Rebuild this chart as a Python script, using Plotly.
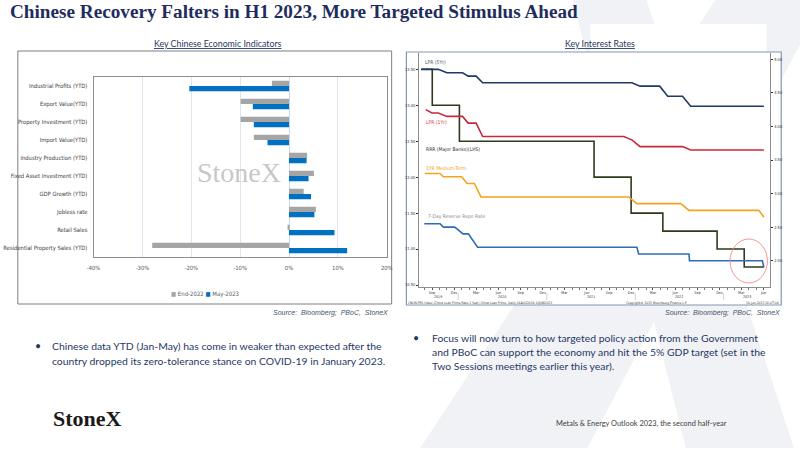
import plotly.graph_objects as go

# ---------------- data: left chart ----------------
categories = ["Industrial Profits (YTD)", "Export Value(YTD)", "Property Investment (YTD)",
              "Import Value(YTD)", "Industry Production (YTD)", "Fixed Asset Investment (YTD)",
              "GDP Growth (YTD)", "Jobless rate", "Retail Sales", "Residential Property Sales (YTD)"]
end_2022 = [-3.5, -9.9, -9.9, -7.2, 3.7, 5.1, 3.0, 5.5, -0.2, -28.0]
may_2023 = [-20.4, -7.4, -7.2, -4.4, 3.6, 4.0, 4.5, 5.2, 9.3, 11.9]
pct_ticks = [-40, -30, -20, -10, 0, 10, 20]
pct_labels = ["-40%", "-30%", "-20%", "-10%", "0%", "10%", "20%"]

# ---------------- data: right chart ----------------
rrr_dates = ["2019-08-01", "2019-09-16", "2020-01-06", "2021-07-15", "2021-12-15",
             "2022-04-25", "2022-12-05", "2023-03-27", "2023-06-16"]
rrr_values = [13.5, 13.0, 12.5, 12.0, 11.5, 11.25, 11.0, 10.75, 10.75]

lpr5_dates = ["2019-08-01", "2019-10-11", "2019-11-15", "2020-01-19", "2020-02-11", "2020-03-15",
              "2020-04-11", "2021-12-18", "2022-01-21", "2022-04-12", "2022-05-15", "2022-07-15",
              "2022-08-18", "2023-06-16"]
lpr5_values = [4.85, 4.85, 4.80, 4.80, 4.75, 4.75, 4.65, 4.65, 4.60, 4.60, 4.45, 4.45, 4.30, 4.30]

lpr1_dates = ["2019-08-20", "2019-09-15", "2019-10-11", "2019-11-15", "2020-01-19", "2020-02-11",
              "2020-03-15", "2020-04-11", "2021-11-15", "2021-12-18", "2022-01-21", "2022-07-15",
              "2022-08-18", "2023-06-16"]
lpr1_values = [4.25, 4.20, 4.20, 4.15, 4.15, 4.05, 4.05, 3.85, 3.85, 3.80, 3.70, 3.70, 3.65, 3.65]

mlf_dates = ["2019-08-16", "2019-10-18", "2019-11-01", "2020-01-15", "2020-02-07", "2020-03-08",
             "2020-04-04", "2021-12-05", "2022-01-08", "2022-07-08", "2022-08-11", "2023-05-26",
             "2023-06-16"]
mlf_values = [3.30, 3.30, 3.25, 3.25, 3.15, 3.15, 2.95, 2.95, 2.85, 2.85, 2.75, 2.75, 2.65]

repo_dates = ["2019-08-14", "2019-10-18", "2019-11-01", "2019-12-18", "2020-01-21", "2020-02-12",
              "2020-03-21", "2022-01-08", "2022-01-15", "2022-08-11", "2022-08-13", "2023-06-10",
              "2023-06-16"]
repo_values = [2.55, 2.55, 2.50, 2.50, 2.40, 2.40, 2.20, 2.20, 2.10, 2.10, 2.00, 2.00, 1.90]

rrr_ticks = [10.5, 11.0, 11.5, 12.0, 12.5, 13.0, 13.5]
rate_ticks = [2.0, 2.5, 3.0, 3.5, 4.0, 4.5, 5.0]
month_ticks = ["2019-09-15", "2019-12-15", "2020-03-15", "2020-06-15", "2020-09-15", "2020-12-15",
               "2021-03-15", "2021-06-15", "2021-09-15", "2021-12-15", "2022-03-15", "2022-06-15",
               "2022-09-15", "2022-12-15", "2023-03-15", "2023-06-15"]
month_labels = ["Sep", "Dec", "Mar", "Jun", "Sep", "Dec", "Mar", "Jun",
                "Sep", "Dec", "Mar", "Jun", "Sep", "Dec", "Mar", "Jun"]
year_labels = ["2019", "2020", "2021", "2022", "2023"]
year_label_dates = ["2019-10-10", "2020-07-01", "2021-07-01", "2022-07-01", "2023-04-06"]
year_breaks = ["2020-01-01", "2021-01-01", "2022-01-01", "2023-01-01"]

# ---------------- helpers (layout only) ----------------
W, H = 800, 450
def px(x):
    return x / W
def py(y):
    return 1 - y / H

NAVY = "#1f2d5c"
TEXT_BLUE = "#1f3864"
NARROW = "Liberation Sans Narrow, Arial Narrow, DejaVu Sans Condensed, sans-serif"
SANS = "Lato, Open Sans, sans-serif"
SERIF = "Liberation Serif, Times New Roman, serif"
BBG = "Liberation Sans Narrow, DejaVu Sans Condensed, Liberation Sans, sans-serif"

fig = go.Figure()

# left chart bars
fig.add_trace(go.Bar(y=categories, x=end_2022, orientation="h", name="End-2022",
                     marker=dict(color="#a5a5a5", line=dict(width=0)), xaxis="x", yaxis="y",
                     showlegend=False))
fig.add_trace(go.Bar(y=categories, x=may_2023, orientation="h", name="May-2023",
                     marker=dict(color="#0070c0", line=dict(width=0)), xaxis="x", yaxis="y",
                     showlegend=False))

# right chart lines
fig.add_trace(go.Scatter(x=rrr_dates, y=rrr_values, mode="lines", line=dict(color="#2c3a1c", width=1.6, shape="hv"),
                         xaxis="x2", yaxis="y2", showlegend=False, name="RRR (Major Banks)(LHS)"))
fig.add_trace(go.Scatter(x=lpr5_dates, y=lpr5_values, mode="lines", line=dict(color="#1f3864", width=1.6),
                         xaxis="x2", yaxis="y3", showlegend=False, name="LPR (5Yr)"))
fig.add_trace(go.Scatter(x=lpr1_dates, y=lpr1_values, mode="lines", line=dict(color="#c8283c", width=1.6),
                         xaxis="x2", yaxis="y3", showlegend=False, name="LPR (1Yr)"))
fig.add_trace(go.Scatter(x=mlf_dates, y=mlf_values, mode="lines", line=dict(color="#f5a31a", width=1.6),
                         xaxis="x2", yaxis="y3", showlegend=False, name="1YR Medium-Term"))
fig.add_trace(go.Scatter(x=repo_dates, y=repo_values, mode="lines", line=dict(color="#2e6db4", width=1.6),
                         xaxis="x2", yaxis="y3", showlegend=False, name="7-Day Reserve Repo Rate"))

shapes = []
# faint X watermark
def poly(points):
    d = "M " + " L ".join(f"{px(a):.4f},{py(b):.4f}" for a, b in points) + " Z"
    return dict(type="path", path=d, xref="paper", yref="paper", fillcolor="#f1f2f5",
                line=dict(width=0), layer="below")
shapes.append(poly([(720, 0), (830, 0), (590, 448), (420, 448)]))
shapes.append(poly([(575, 0), (650, 0), (800, 448), (690, 448)]))
shapes.append(dict(type="rect", xref="paper", yref="paper", x0=px(593), x1=px(772), y0=py(52), y1=py(24),
                   fillcolor="white", line=dict(width=0), layer="below"))
# panels
shapes.append(dict(type="rect", xref="paper", yref="paper", x0=px(11), x1=px(391), y0=py(304), y1=py(51),
                   fillcolor="white", line=dict(color="#7f7f7f", width=1), layer="below"))
shapes.append(dict(type="rect", xref="paper", yref="paper", x0=px(406), x1=px(787), y0=py(305), y1=py(52),
                   fillcolor="white", line=dict(color="#8496b0", width=1.2), layer="below"))
# year separators on the date axis
for d in year_breaks:
    shapes.append(dict(type="line", xref="x2", yref="paper", x0=d, x1=d, y0=py(300), y1=py(293),
                       line=dict(color="#b0b0b0", width=0.6)))
# highlight ellipse
shapes.append(dict(type="circle", xref="paper", yref="paper", x0=px(735), x1=px(773), y0=py(283), y1=py(239),
                   line=dict(color="#f08a8a", width=0.9)))

annotations = []
def ann(text, x, y, size, color, family=SANS, xanchor="left", yanchor="middle", **kw):
    annotations.append(dict(text=text, x=px(x), y=py(y), xref="paper", yref="paper", showarrow=False,
                            xanchor=xanchor, yanchor=yanchor, borderpad=0,
                            font=dict(size=size, color=color, family=family), **kw))

ann("<b>Chinese Recovery Falters in H1 2023, More Targeted Stimulus Ahead</b>", 2, 11, 19.2, NAVY, SERIF)
ann("<u>Key Chinese Economic Indicators</u>", 214, 43, 8.8, TEXT_BLUE, SANS, xanchor="center")
ann("<u>Key Interest Rates</u>", 603, 43, 8.8, TEXT_BLUE, SANS, xanchor="center")
ann("StoneX", 236, 172, 28, "rgba(150,150,150,0.55)", SERIF, xanchor="center")
ann("<span style='color:#a5a5a5'>■</span> End-2022 <span style='color:#0070c0'>■</span> May-2023",
    201, 294, 6, "#595959", NARROW, xanchor="center")
ann("<i>Source:  Bloomberg;  PBoC,  StoneX</i>", 388, 313, 7, "#44546a", "Liberation Sans, Arial, sans-serif",
    xanchor="right")
ann("<i>Source:  Bloomberg;  PBoC,  StoneX</i>", 787, 313, 7, "#44546a", "Liberation Sans, Arial, sans-serif",
    xanchor="right")

# series labels inside the rates chart
ann("LPR (5Yr)", 424, 62, 5, "#44546a", BBG)
ann("LPR (1Yr)", 425, 122, 5, "#e0303c", BBG)
ann("RRR (Major Banks)(LHS)", 425, 149.5, 5, "#333333", BBG)
ann("1YR Medium-Term", 425, 168, 5, "#f0a020", BBG)
ann("7-Day Reserve Repo Rate", 427, 216, 5, "#8c8c8c", BBG)

# year labels on the date axis
for lab, d in zip(year_labels, year_label_dates):
    annotations.append(dict(text=lab, x=d, y=py(297), xref="x2", yref="paper", showarrow=False,
                            xanchor="center", yanchor="middle", borderpad=0,
                            font=dict(size=3.6, color="#333333", family=BBG)))
# Bloomberg footer
ann("CNLRLPR1 Index (China Loan Prime Rate 1 Year) China Loan Prime  Daily 01AUG2019-16JUN2023",
    407, 302.8, 3.3, "#333333", BBG)
ann("Copyright© 2023 Bloomberg Finance L.P.", 628, 302.8, 3.3, "#333333", BBG)
ann("16-Jun-2023 16:07:04", 786, 302.8, 3.3, "#333333", BBG, xanchor="right")

# bullets
ann("•", 27, 346, 10.5, TEXT_BLUE)
ann("Chinese data YTD (Jan-May) has come in weaker than expected after the", 45, 346, 10.4, TEXT_BLUE)
ann("country dropped its zero-tolerance stance on COVID-19 in January 2023.", 45, 361, 10.4, TEXT_BLUE)
ann("•", 412, 338, 10.5, TEXT_BLUE)
ann("Focus will now turn to how targeted policy action from the Government", 431, 338, 10.4, TEXT_BLUE)
ann("and PBoC can support the economy and hit the 5% GDP target (set in the", 431, 352, 10.4, TEXT_BLUE)
ann("Two Sessions meetings earlier this year).", 431, 366, 10.4, TEXT_BLUE)

# footer
ann("<b>StoneX</b>", 46, 418, 22, "#1a1a1a", SERIF)
ann("Metals & Energy Outlook 2023, the second half-year", 557, 423, 7.4, "#404040", SANS)

fig.update_layout(
    width=W, height=H, margin=dict(l=0, r=0, t=0, b=0),
    paper_bgcolor="white", plot_bgcolor="rgba(0,0,0,0)",
    barmode="group", bargap=0.42, bargroupgap=0,
    showlegend=False,
    shapes=shapes, annotations=annotations,
    xaxis=dict(domain=[px(88), px(386)], range=[-40, 20], tickvals=pct_ticks, ticktext=pct_labels,
               showgrid=True, gridcolor="#dce6f2", gridwidth=1, zeroline=True, zerolinecolor="#c6d9f0",
               zerolinewidth=1, showline=True, mirror=True, linecolor="#8c8c8c", linewidth=1,
               ticks="outside", ticklen=5, tickcolor="rgba(0,0,0,0)",
               tickfont=dict(size=5.8, color="#595959", family=NARROW), anchor="y", fixedrange=True),
    yaxis=dict(domain=[py(257), py(77)], type="category", autorange="reversed",
               showgrid=False, showline=True, mirror=True, linecolor="#8c8c8c", linewidth=1,
               ticks="outside", ticklen=4, tickcolor="rgba(0,0,0,0)",
               tickfont=dict(size=5.8, color="#404040", family=NARROW), anchor="x"),
    xaxis2=dict(domain=[px(419), px(776)], type="date", range=["2019-07-24", "2023-07-13"],
                tickvals=month_ticks, ticktext=month_labels, showgrid=False, zeroline=False,
                showline=True, linecolor="#8c8c8c", linewidth=1, ticks="outside", ticklen=1.5,
                tickcolor="#555555", tickfont=dict(size=3.8, color="#333333", family=BBG),
                ticklabelstandoff=0,
                minor=dict(dtick="M1", tick0="2019-07-15", ticks="outside", ticklen=1.2, tickcolor="#777777"),
                anchor="y2"),
    yaxis2=dict(domain=[py(287.3), py(53)], range=[10.468, 13.727], tickvals=rrr_ticks,
                ticktext=[f"{v:.2f}" for v in rrr_ticks], showgrid=False, zeroline=False,
                showline=True, linecolor="#8c8c8c", linewidth=1, ticks="outside", ticklen=2,
                tickcolor="#333333", tickfont=dict(size=4, color="#333333", family=BBG),
                side="left", anchor="x2"),
    yaxis3=dict(range=[1.604, 5.094], tickvals=rate_ticks, ticktext=[f"{v:.2f}" for v in rate_ticks],
                overlaying="y2", side="right", anchor="x2", showgrid=False, zeroline=False,
                showline=True, linecolor="#8c8c8c", linewidth=1, ticks="outside", ticklen=2,
                tickcolor="#333333", tickfont=dict(size=4, color="#333333", family=BBG)),
)

fig.write_html("out.html", config={"displayModeBar": False},
               post_script="document.body.style.margin='0px';document.body.style.overflow='hidden';")
